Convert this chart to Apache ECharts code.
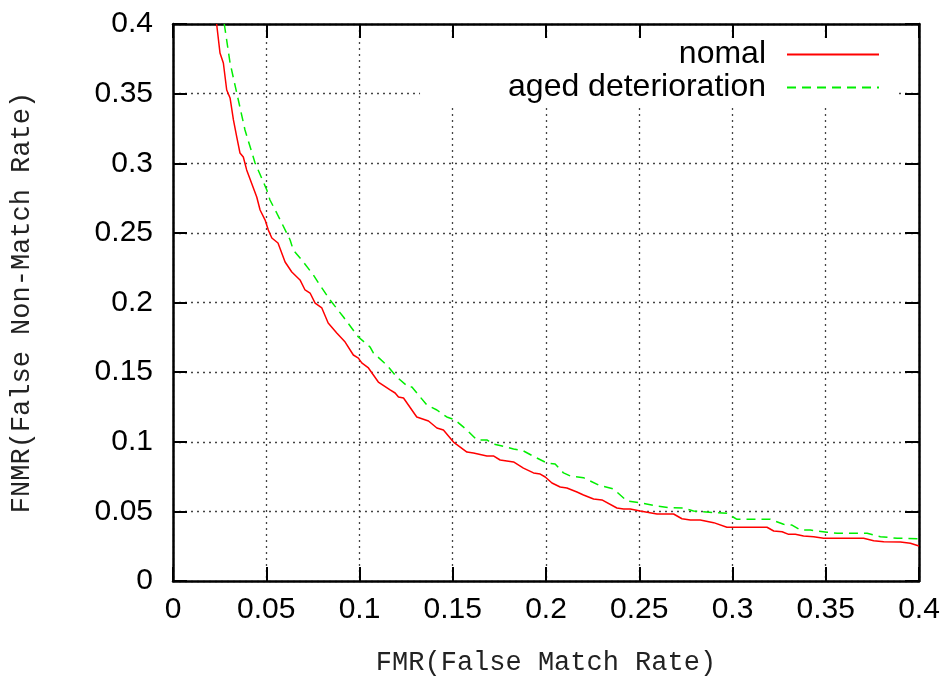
<!DOCTYPE html>
<html>
<head>
<meta charset="utf-8">
<script src="https://cdn.jsdelivr.net/npm/echarts@6/dist/echarts.min.js"></script>
<style>html,body{margin:0;padding:0;background:#fff}#chart{width:950px;height:678px}</style>
</head>
<body>
<div id="chart"></div>
<script>
// Series names
const seriesNames = ['nomal', 'aged deterioration'];
// Axis tick values
const xTicks = [0, 0.05, 0.1, 0.15, 0.2, 0.25, 0.3, 0.35, 0.4];
const yTicks = [0, 0.05, 0.1, 0.15, 0.2, 0.25, 0.3, 0.35, 0.4];

// "nomal" curve (FMR, FNMR)
const fmrNomal = [0.0234,0.0252,0.0270,0.0288,0.0306,0.0324,0.0342,0.0359,0.0377,0.0395,0.0449,0.0467,0.0494,0.0511,0.0530,0.0563,0.0601,0.0637,0.0681,0.0708,0.0735,0.0762,0.0798,0.0832,0.0878,0.0923,0.0967,0.0994,0.1012,0.1048,0.1101,0.1164,0.1191,0.1209,0.1236,0.1307,0.1370,0.1415,0.1450,0.1504,0.1576,0.1611,0.1683,0.1718,0.1754,0.1826,0.1879,0.1933,0.1969,0.1996,0.2032,0.2076,0.2112,0.2166,0.2201,0.2255,0.2300,0.2380,0.2416,0.2452,0.2505,0.2595,0.2684,0.2729,0.2774,0.2827,0.2899,0.2970,0.3185,0.3221,0.3266,0.3301,0.3337,0.3381,0.3435,0.3489,0.3703,0.3757,0.3811,0.3900,0.3954,0.4000];
const fnmrNomal = [0.400,0.3792,0.3720,0.3526,0.3469,0.3311,0.3188,0.3074,0.3045,0.2952,0.2758,0.2664,0.2592,0.2521,0.2463,0.2427,0.2291,0.2219,0.2162,0.2090,0.2068,0.1996,0.1961,0.1853,0.1781,0.1716,0.1623,0.1601,0.1566,0.1530,0.1429,0.1372,0.1350,0.1321,0.1314,0.1178,0.1149,0.1099,0.1084,0.0998,0.0926,0.0919,0.0898,0.0898,0.0869,0.0855,0.0811,0.0776,0.0768,0.0747,0.0704,0.0675,0.0668,0.0639,0.0618,0.0589,0.0582,0.0524,0.0517,0.0517,0.0503,0.0481,0.0481,0.0447,0.0438,0.0438,0.0419,0.0386,0.0386,0.0359,0.0354,0.0335,0.0335,0.0323,0.0318,0.0307,0.0307,0.0289,0.0282,0.0280,0.0271,0.0251];

// "aged deterioration" curve (FMR, FNMR)
const fmrAged = [0.0275,0.0306,0.0342,0.0386,0.0440,0.0503,0.0520,0.0556,0.0583,0.0628,0.0645,0.0699,0.0753,0.0780,0.0842,0.0914,0.0994,0.1057,0.1075,0.1146,0.1200,0.1262,0.1281,0.1361,0.1415,0.1468,0.1513,0.1576,0.1629,0.1683,0.1718,0.1790,0.1826,0.1879,0.1951,0.2005,0.2049,0.2094,0.2130,0.2201,0.2282,0.2362,0.2434,0.2505,0.2595,0.2666,0.2738,0.2791,0.2917,0.2970,0.3024,0.3203,0.3274,0.3319,0.3364,0.3417,0.3507,0.3561,0.3722,0.3793,0.3883,0.4000];
const fnmrAged = [0.400,0.3720,0.3504,0.3239,0.3002,0.2808,0.2736,0.2643,0.2571,0.2449,0.2377,0.2291,0.2197,0.2140,0.2018,0.1896,0.1752,0.1680,0.1637,0.1551,0.1465,0.1393,0.1393,0.1264,0.1228,0.1178,0.1156,0.1084,0.1013,0.1013,0.0984,0.0962,0.0948,0.0934,0.0883,0.0847,0.0840,0.0776,0.0754,0.0742,0.0689,0.0661,0.0575,0.0562,0.0539,0.0526,0.0524,0.0503,0.0490,0.0486,0.0443,0.0443,0.0407,0.0402,0.0366,0.0366,0.0350,0.0343,0.0343,0.0318,0.0307,0.0304];

const zip = (a, b) => a.map((v, i) => [v, b[i]]);
const fmt = v => String(+(+v).toFixed(2));

const labelFont = {fontFamily: '"Liberation Sans", Arial, sans-serif', fontSize: 30, color: '#000'};
const nameFont = {fontFamily: '"Liberation Mono", "Courier New", monospace', fontSize: 27, color: '#222'};
const axisLine = {show: true, onZero: false, lineStyle: {color: '#000', width: 2.5}};
const tick = {show: true, inside: true, length: 14, lineStyle: {color: '#000', width: 2}};
const split = {show: true, lineStyle: {color: '#444', width: 1.3, type: [2, 4]}};

const chart = echarts.init(document.getElementById('chart'), null, {renderer: 'canvas'});
chart.setOption({
  animation: false,
  backgroundColor: '#fff',
  grid: {left: 173, top: 24, right: 31, bottom: 97, containLabel: false, outerBoundsMode: 'none'},
  legend: {
    orient: 'vertical',
    right: 53,
    top: 38,
    align: 'right',
    itemWidth: 92,
    itemHeight: 14,
    itemGap: 0,
    padding: [0, 17, 2, 88],
    backgroundColor: '#fff',
    itemStyle: {opacity: 0},
    textStyle: {fontFamily: '"Liberation Sans", Arial, sans-serif', fontSize: 32, color: '#000', lineHeight: 33, padding: [0, 16, 0, 0]},
    data: seriesNames
  },
  xAxis: [{
    type: 'value', position: 'bottom', min: xTicks[0], max: xTicks[xTicks.length - 1], interval: 0.05,
    name: 'FMR(False Match Rate)', nameLocation: 'middle', nameGap: 68, nameTextStyle: nameFont,
    axisLine: axisLine, axisTick: tick, splitLine: split,
    axisLabel: Object.assign({margin: 14, formatter: fmt}, labelFont)
  }, {
    type: 'value', position: 'top', min: xTicks[0], max: xTicks[xTicks.length - 1], interval: 0.05,
    axisLine: axisLine, axisTick: tick, splitLine: {show: false}, axisLabel: {show: false}
  }],
  yAxis: [{
    type: 'value', position: 'left', min: yTicks[0], max: yTicks[yTicks.length - 1], interval: 0.05,
    name: 'FNMR(False Non-Match Rate)', nameLocation: 'middle', nameGap: 138, nameTextStyle: nameFont,
    axisLine: axisLine, axisTick: tick, splitLine: split,
    axisLabel: Object.assign({margin: 20, formatter: fmt}, labelFont)
  }, {
    type: 'value', position: 'right', min: yTicks[0], max: yTicks[yTicks.length - 1], interval: 0.05,
    axisLine: axisLine, axisTick: tick, splitLine: {show: false}, axisLabel: {show: false}
  }],
  series: [{
    name: seriesNames[0], type: 'line', xAxisIndex: 0, yAxisIndex: 0,
    data: zip(fmrNomal, fnmrNomal), symbol: 'none', clip: true,
    lineStyle: {color: '#ff0000', width: 1.5}, itemStyle: {color: '#ff0000'}
  }, {
    name: seriesNames[1], type: 'line', xAxisIndex: 0, yAxisIndex: 0,
    data: zip(fmrAged, fnmrAged), symbol: 'none', clip: true,
    lineStyle: {color: '#00ee00', width: 1.5, type: [9, 6]}, itemStyle: {color: '#00ee00'}
  }]
});
</script>
</body>
</html>
